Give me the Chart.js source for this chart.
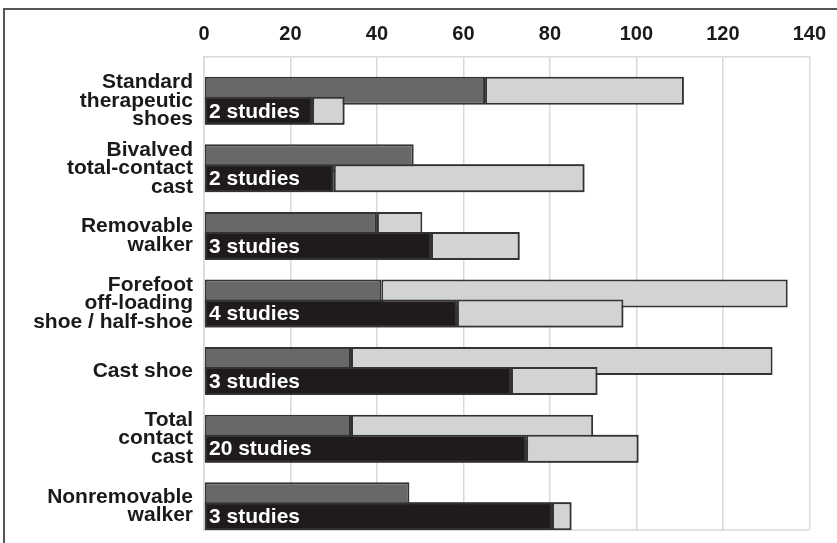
<!DOCTYPE html>
<html>
<head>
<meta charset="utf-8">
<script src="https://cdn.jsdelivr.net/npm/chart.js@4.4.0/dist/chart.umd.min.js"></script>
<style>
  body { margin: 0; background: #fff; }
  #wrap { position: relative; width: 837px; height: 543px; }
  #frame { position: absolute; left: 3px; top: 8px; right: 0; bottom: 0;
           border-top: 2px solid #555; border-left: 2px solid #555; pointer-events: none; }
  canvas { position: absolute; left: 0; top: 0; }
</style>
</head>
<body>
<div id="wrap">
  <canvas id="chart" width="837" height="543"></canvas>
  <div id="frame"></div>
</div>
<script>
// categorie (una riga per etichetta)
var categories = [
  ['Standard', 'therapeutic', 'shoes'],
  ['Bivalved', 'total-contact', 'cast'],
  ['Removable', 'walker'],
  ['Forefoot', 'off-loading', 'shoe / half-shoe'],
  'Cast shoe',
  ['Total', 'contact', 'cast'],
  ['Nonremovable', 'walker']
];

// riga superiore: grigio scuro fino a topLow, grigio chiaro fino a topHigh
var topLow = [65, 48.5, 40, 41, 34, 34, 47.5];
var topHigh = [111, null, 50.5, 135, 131.5, 90, null];

// riga inferiore: nero fino a bottomLow, grigio chiaro fino a bottomHigh
var bottomLow = [25, 30, 52.5, 58.5, 71, 74.5, 80.5];
var bottomHigh = [32.5, 88, 73, 97, 91, 100.5, 85];

var studies = ['2 studies', '2 studies', '3 studies', '4 studies', '3 studies', '20 studies', '3 studies'];

var xTicks = [0, 20, 40, 60, 80, 100, 120, 140];

var gridColor = '#dcd8d8';
var edgeColor = '#333333';
var font = 'Liberation Sans, Arial, sans-serif';

function range(lo, hi) {
  var out = [];
  for (var i = 0; i < lo.length; i++) {
    out.push(hi[i] == null ? null : [lo[i], hi[i]]);
  }
  return out;
}

var empty = categories.map(function () { return null; });

function ds(label, data, color, stack) {
  return {
    label: label,
    data: data,
    backgroundColor: color,
    borderColor: edgeColor,
    borderWidth: 2,
    borderSkipped: false,
    stack: stack,
    categoryPercentage: 0.8876,
    barPercentage: 1.4
  };
}

// tre gruppi per categoria: vuoto, riga superiore, riga inferiore
var datasets = [
  ds('spacer', empty, 'transparent', 'g'),
  ds('top', topLow, '#686868', 'a'),
  ds('top range', range(topLow, topHigh), '#d2d3d5', 'a'),
  ds('studies', bottomLow, '#1f1b1c', 'b'),
  ds('bottom range', range(bottomLow, bottomHigh), '#d2d3d5', 'b')
];

var extras = {
  id: 'extras',
  beforeDatasetsDraw: function (chart) {
    // linea inferiore del riquadro
    var a = chart.chartArea;
    var ctx = chart.ctx;
    ctx.save();
    ctx.strokeStyle = gridColor;
    ctx.lineWidth = 1.5;
    ctx.beginPath();
    ctx.moveTo(a.left, a.bottom);
    ctx.lineTo(a.right, a.bottom);
    ctx.stroke();
    ctx.restore();
  },
  afterDatasetsDraw: function (chart) {
    // la riga inferiore deve stare sopra quella superiore
    chart.getDatasetMeta(4).controller.draw();
    chart.getDatasetMeta(3).controller.draw();

    var meta = chart.getDatasetMeta(3);
    var ctx = chart.ctx;
    ctx.save();
    ctx.fillStyle = '#ffffff';
    ctx.font = 'bold 21px ' + font;
    ctx.textBaseline = 'middle';
    ctx.textAlign = 'left';
    meta.data.forEach(function (el, i) {
      ctx.fillText(studies[i], chart.chartArea.left + 5, el.y + 1);
    });
    ctx.restore();
  }
};

var chart = new Chart(document.getElementById('chart'), {
  type: 'bar',
  data: { labels: categories, datasets: datasets },
  plugins: [extras],
  options: {
    indexAxis: 'y',
    responsive: false,
    animation: false,
    layout: { padding: { left: 0, top: 0, right: 23, bottom: 13 } },
    plugins: { legend: { display: false }, tooltip: { enabled: false } },
    scales: {
      x: {
        position: 'top',
        stacked: false,
        min: 0,
        max: 140,
        afterBuildTicks: function (scale) {
          scale.ticks = xTicks.map(function (v) { return { value: v }; });
        },
        afterFit: function (scale) { scale.height = 57; },
        grid: { color: gridColor, lineWidth: 1.5, drawTicks: false },
        border: { color: gridColor, width: 1.5 },
        ticks: {
          color: '#1a1a1a',
          padding: 11,
          font: { family: font, size: 20, weight: 'bold' }
        }
      },
      y: {
        type: 'category',
        offset: true,
        afterFit: function (scale) {
          scale.width = 204;
          scale.paddingTop = 0;
          scale.paddingBottom = 0;
        },
        grid: { display: false, drawTicks: false },
        border: { color: gridColor, width: 1.5 },
        ticks: {
          color: '#1a1a1a',
          padding: 11,
          labelOffset: 10,
          font: { family: font, size: 21, weight: 'bold', lineHeight: 0.88 }
        }
      }
    }
  }
});
</script>
</body>
</html>
